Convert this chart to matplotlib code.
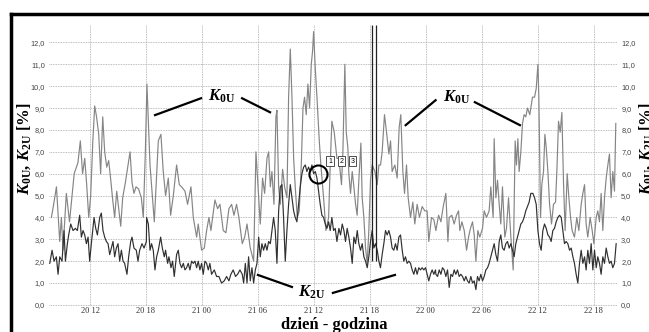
import numpy as np
import matplotlib.pyplot as plt
from matplotlib.lines import Line2D

plt.rcParams['mathtext.fontset'] = 'custom'
plt.rcParams['mathtext.rm'] = 'Liberation Serif:bold'
plt.rcParams['mathtext.it'] = 'Liberation Serif:italic:bold'
plt.rcParams['mathtext.bf'] = 'Liberation Serif:bold'

# time in hours counted from day 20, 00:00
t_k0 = [7.86, 8.1, 8.4, 8.75, 8.93, 9.1, 9.46, 9.8, 10.3, 10.7, 10.96, 11.2, 11.43, 11.64, 11.86,
        12.07, 12.3, 12.5, 12.7, 12.93, 13.14, 13.36, 13.57, 13.79, 14.0, 14.2, 14.43, 14.64, 14.86,
        15.07, 15.29, 15.5, 15.79, 16.07, 16.29, 16.5, 16.71, 16.93, 17.21, 17.5, 17.71, 17.93, 18.1,
        18.43, 18.89, 19.32, 19.6, 19.85, 20.1, 20.39, 20.64, 20.93, 21.28, 21.57, 21.82, 22.18, 22.46,
        22.82, 23.07, 23.43, 23.6, 23.96, 24.25, 24.5, 24.75, 24.96, 25.39, 25.68, 25.93, 26.28, 26.57,
        26.89, 27.18, 27.43, 27.71, 27.96, 28.32, 28.58, 28.83, 29.18, 29.54, 29.79, 30.08, 30.25,
        30.5, 30.72, 30.97, 31.15, 31.33, 31.5, 31.72, 31.93, 32.04, 32.22, 32.4, 32.65, 32.86, 33.11,
        33.29, 33.47, 33.65, 33.83, 34.0, 34.22, 34.43, 34.65, 34.83, 35.0, 35.18, 35.36, 35.54, 35.72,
        35.86, 35.97, 36.15, 36.33, 36.58, 36.75, 37.04, 37.29, 37.58, 37.75, 37.93, 38.18, 38.47,
        38.68, 38.96, 39.11, 39.32, 39.47, 39.64, 39.75, 39.93, 40.11, 40.29, 40.47, 40.64, 40.82,
        41.04, 41.18, 41.36, 41.54, 41.72, 41.89, 42.07, 42.25, 42.54, 42.79, 42.97, 43.15, 43.32,
        43.57, 43.79, 44.04, 44.22, 44.39, 44.68, 44.93, 45.14, 45.32, 45.54, 45.72, 45.93, 46.11,
        46.36, 46.61, 46.82, 47.07, 47.32, 47.61, 47.89, 48.14, 48.32, 48.61, 48.86, 49.08, 49.37,
        49.62, 49.87, 50.15, 50.37, 50.51, 50.79, 51.04, 51.29, 51.51, 51.65, 51.87, 52.12, 52.37,
        52.58, 52.79, 53.01, 53.19, 53.37, 53.58, 53.79, 54.08, 54.26, 54.51, 54.79, 54.97, 55.22,
        55.33, 55.51, 55.69, 55.87, 56.04, 56.22, 56.47, 56.65, 56.87, 57.12, 57.37, 57.58, 57.72,
        57.87, 58.01, 58.19, 58.37, 58.54, 58.72, 58.9, 59.15, 59.44, 59.66, 59.84, 60.02, 60.12,
        60.19, 60.3, 60.44, 60.62, 60.77, 60.91, 61.09, 61.27, 61.48, 61.69, 61.91, 62.05, 62.23,
        62.41, 62.59, 62.77, 62.94, 63.16, 63.34, 63.52, 63.69, 63.94, 64.19, 64.41, 64.66, 64.84,
        65.02, 65.19, 65.37, 65.62, 65.84, 66.02, 66.27, 66.44, 66.62, 66.8, 66.98, 67.16, 67.34,
        67.52, 67.69, 67.87, 68.05, 68.23, 68.37]
k0u = [4.0, 4.6, 5.4, 2.9, 4.0, 2.5, 5.1, 3.8, 6.0, 6.5, 7.5, 6.0, 6.7, 5.5, 4.0,
       5.0, 7.5, 9.1, 8.6, 7.8, 6.0, 8.6, 7.0, 6.3, 6.6, 5.8, 4.8, 4.0, 5.2,
       4.4, 3.6, 4.9, 5.6, 6.4, 7.0, 5.6, 5.1, 5.4, 5.3, 4.9, 4.0, 7.0, 10.1,
       6.4, 3.8, 7.5, 7.8, 6.1, 5.0, 5.8, 4.1, 5.0, 6.4, 5.5, 5.4, 5.2, 4.6,
       5.4, 4.0, 3.1, 3.7, 2.5, 2.6, 3.4, 4.0, 3.4, 4.8, 4.4, 4.6, 3.4, 3.3,
       4.4, 4.6, 4.1, 4.6, 4.0, 2.8, 3.1, 3.7, 2.6, 2.0, 7.0, 4.9, 3.7,
       5.8, 5.1, 6.7, 7.0, 5.4, 6.1, 4.6, 8.6, 8.9, 5.4, 4.6, 6.2, 5.4, 4.9,
       9.5, 11.7, 9.5, 6.7, 5.4, 4.0, 4.3, 6.4, 9.0, 9.5, 8.7, 10.1, 9.0, 11.0,
       11.6, 12.5, 10.8, 9.5, 7.5, 6.4, 4.9, 3.4, 4.0, 6.4, 8.4, 7.9, 6.7,
       6.7, 5.5, 7.0, 11.0, 7.9, 7.2, 6.0, 5.1, 6.1, 5.4, 4.6, 4.1, 5.7,
       7.4, 4.9, 4.0, 2.6, 1.9, 3.4, 5.7, 6.4, 6.1, 5.5, 6.4, 6.4, 7.0,
       8.7, 7.9, 6.9, 7.5, 6.1, 6.4, 5.8, 8.1, 8.7, 6.1, 5.1, 6.4, 4.9,
       4.0, 4.7, 3.7, 4.6, 4.0, 4.5, 4.3, 4.3, 2.9, 4.0, 3.9, 3.4, 4.1,
       3.8, 4.5, 5.1, 2.9, 4.0, 4.1, 3.7, 4.1, 4.3, 3.4, 3.8, 3.4, 2.5,
       3.1, 3.5, 3.8, 3.2, 2.0, 3.4, 3.1, 3.5, 4.3, 4.0, 4.3, 5.4, 4.0,
       7.6, 4.9, 5.7, 4.6, 3.7, 5.4, 3.1, 3.5, 4.9, 3.1, 1.6, 7.5, 6.4,
       7.6, 6.1, 7.0, 8.3, 8.7, 8.6, 9.0, 8.7, 9.5, 9.5, 9.9, 11.0, 9.5,
       7.5, 4.0, 5.5, 6.1, 7.8, 7.2, 6.1, 4.6, 3.7, 4.6, 4.7, 6.1, 8.4,
       7.9, 8.8, 5.5, 3.4, 6.0, 4.9, 4.0, 3.4, 3.1, 4.0, 3.4, 4.6, 5.1,
       5.5, 3.7, 3.1, 4.0, 3.4, 2.8, 4.0, 4.3, 3.8, 5.1, 3.4, 4.9, 5.8,
       6.4, 6.9, 4.9, 6.1, 5.2, 8.3]

t_k2 = [7.68, 7.93, 8.14, 8.39, 8.57, 8.75, 9.0, 9.21, 9.36, 9.57, 9.71, 9.93, 10.18, 10.43, 10.64,
        10.89, 11.07, 11.25, 11.43, 11.61, 11.79, 11.96, 12.14, 12.43, 12.61, 12.79, 13.04, 13.21,
        13.39, 13.57, 13.75, 13.93, 14.11, 14.29, 14.46, 14.64, 14.82, 15.0, 15.18, 15.36, 15.54,
        15.71, 15.96, 16.14, 16.36, 16.5, 16.71, 16.96, 17.14, 17.32, 17.57, 17.79, 18.04,
        18.07, 18.25, 18.43, 18.6, 18.78, 18.96, 19.14, 19.32, 19.57, 19.75, 19.96, 20.1, 20.32,
        20.46, 20.68, 20.85, 21.03, 21.28, 21.46, 21.64, 21.82, 22.0, 22.18, 22.35, 22.53, 22.71,
        22.89, 23.07, 23.25, 23.43, 23.6, 23.78, 23.96, 24.14, 24.32, 24.5, 24.68, 24.85, 25.03,
        25.32, 25.57, 25.82, 26.1, 26.39, 26.64, 26.89, 27.1, 27.35, 27.6, 27.82, 28.07, 28.32,
        28.47, 28.65, 28.83, 29.0, 29.18, 29.36, 29.54, 29.72, 29.9, 30.08, 30.25, 30.43, 30.61,
        30.79, 30.97, 31.15, 31.33, 31.5, 31.68, 31.86, 32.04, 32.22, 32.4, 32.58, 32.75, 32.93,
        33.11, 33.29, 33.47, 33.65, 33.83, 34.0, 34.18, 34.36, 34.54, 34.72, 34.9, 35.08, 35.25,
        35.43, 35.61, 35.79, 35.97, 36.15, 36.33, 36.5, 36.68, 36.86, 37.04, 37.22, 37.4, 37.58,
        37.75, 37.93, 38.11, 38.29, 38.47,
        38.68, 38.86, 39.04, 39.22, 39.39, 39.57, 39.75, 39.93, 40.11, 40.29, 40.47, 40.65, 40.82,
        41.0, 41.18, 41.36, 41.54, 41.72, 41.89, 42.07, 42.25, 42.43, 42.61, 42.79, 42.97, 43.14,
        43.32, 43.5, 43.68, 43.86, 44.04, 44.22, 44.39, 44.57, 44.75, 44.93, 45.11, 45.29, 45.47,
        45.64, 45.82, 46.0, 46.18, 46.36, 46.54, 46.72, 46.89, 47.07, 47.25, 47.43, 47.61, 47.79,
        47.97, 48.14, 48.32, 48.5, 48.68, 48.86, 49.04,
        49.08, 49.26, 49.44, 49.62, 49.79, 49.97, 50.15, 50.33, 50.51, 50.69, 50.87, 51.04, 51.22,
        51.4, 51.58, 51.76, 51.94, 52.12, 52.29, 52.47, 52.65, 52.83, 53.01, 53.19, 53.37, 53.54,
        53.72, 53.9, 54.08, 54.26, 54.44, 54.62, 54.79, 54.97, 55.15, 55.33, 55.51, 55.69, 55.87,
        56.04, 56.22, 56.4, 56.58, 56.76, 56.94, 57.12, 57.29, 57.47, 57.65, 57.83, 58.01, 58.19,
        58.37, 58.54, 58.72, 58.9, 59.08, 59.26,
        59.48, 59.66, 59.84, 60.02, 60.19, 60.37, 60.55, 60.73, 60.91, 61.09, 61.27, 61.44, 61.62,
        61.8, 61.98, 62.16, 62.34, 62.52, 62.69, 62.87, 63.05, 63.23, 63.41, 63.59, 63.77, 63.94,
        64.12, 64.3, 64.48, 64.66, 64.84, 65.02, 65.19, 65.37, 65.55, 65.73, 65.91, 66.09, 66.27,
        66.44, 66.62, 66.8, 66.98, 67.16, 67.34, 67.52, 67.69, 67.87, 68.05, 68.23, 68.41]
k2u = [1.9, 2.5, 2.0, 2.2, 1.4, 2.2, 2.0, 3.4, 2.0, 2.8, 3.2, 3.7, 3.4, 3.5, 3.4,
       4.1, 3.1, 3.4, 3.2, 2.8, 3.1, 2.0, 2.8, 4.0, 3.5, 3.2, 4.0, 4.2,
       3.4, 3.1, 2.9, 2.8, 2.3, 2.6, 2.9, 2.2, 2.6, 2.8, 2.0, 2.5, 2.0,
       1.9, 1.4, 2.2, 2.9, 3.1, 2.6, 2.5, 2.0, 2.5, 2.8, 2.6, 2.9,
       4.0, 3.7, 2.5, 2.8, 2.5, 1.6, 2.2, 2.5, 3.1, 2.6, 2.2, 2.5, 1.9,
       2.2, 1.7, 2.0, 1.3, 2.3, 2.5, 1.9, 1.7, 1.9, 1.6, 1.7, 1.9, 1.6,
       2.0, 1.9, 2.0, 1.7, 2.0, 1.6, 1.9, 1.4, 2.0, 1.9, 1.6, 1.9, 1.4,
       1.6, 1.3, 1.3, 1.0, 1.1, 1.3, 1.1, 1.4, 1.6, 1.3, 1.4, 1.6, 1.4,
       1.0, 1.9, 1.0, 2.2, 1.1, 1.7, 1.0, 1.6, 1.9, 3.1, 2.2, 2.8, 2.5,
       2.8, 2.5, 2.9, 2.8, 3.4, 4.0, 3.4, 1.9, 4.3, 5.4, 5.5, 4.0, 2.0,
       3.4, 4.6, 5.5, 4.9, 4.3, 4.0, 3.8, 4.6, 5.4, 6.0, 6.3, 6.4, 6.1,
       6.3, 6.1, 6.4, 6.0, 6.1, 5.8, 5.2, 4.6, 4.1, 4.0, 3.7, 3.5, 3.8,
       3.4, 4.0, 3.4, 3.5, 2.9,
       3.5, 3.2, 3.7, 3.4, 2.9, 3.5, 3.1, 2.6, 1.9, 3.1, 2.8, 3.4, 2.8,
       2.5, 2.8, 2.2, 2.0, 1.7, 2.2, 2.9, 3.4, 2.6, 2.8, 2.5, 2.0, 1.7,
       2.3, 2.8, 3.4, 3.2, 3.4, 3.1, 2.6, 2.5, 2.8, 2.5, 3.1, 3.2, 2.5,
       2.0, 2.2, 1.9, 2.0, 1.9, 1.6, 1.4, 1.7, 1.4, 1.7, 1.6, 1.7, 1.6,
       1.7, 1.4, 1.1, 1.4, 1.6, 1.4, 1.6,
       1.4, 1.3, 1.6, 1.4, 1.7, 1.6, 1.3, 1.6, 0.8, 1.4, 1.3, 1.6, 1.4,
       1.6, 1.3, 1.4, 1.3, 1.1, 1.3, 1.1, 1.0, 1.3, 1.0, 1.1, 0.7, 1.3,
       1.1, 1.4, 1.1, 1.3, 1.6, 1.7, 1.9, 2.2, 2.5, 2.8, 2.3, 2.0, 2.9,
       3.2, 2.6, 2.5, 2.8, 2.9, 2.6, 2.8, 2.5, 2.2, 2.8, 3.1, 3.4, 3.7,
       3.8, 4.0, 4.3, 4.5, 4.7, 5.1,
       5.1, 4.9, 4.6, 3.4, 2.8, 2.5, 3.4, 3.7, 3.5, 3.2, 3.1, 2.9, 3.4,
       3.5, 3.8, 4.0, 4.1, 4.0, 3.4, 2.8, 2.9, 2.8, 2.5, 2.6, 2.2, 1.9,
       1.4, 1.0, 1.9, 2.5, 1.9, 2.2, 1.6, 2.5, 1.9, 2.8, 1.6, 2.5, 1.7,
       2.2, 1.9, 1.4, 2.2, 1.9, 2.6, 2.2, 1.9, 2.0, 1.7, 1.9, 2.8]

x_ticks = [12, 18, 24, 30, 36, 42, 48, 54, 60, 66]
x_labels = ['20 12', '20 18', '21 00', '21 06', '21 12', '21 18', '22 00', '22 06', '22 12', '22 18']
y_ticks = list(range(13))
y_labels = ['%d,0' % v for v in y_ticks]

fig = plt.figure(figsize=(6.49, 3.32), dpi=100)
ax = fig.add_axes([49/649, 26/332, 568/649, 281/332])

ax.plot(t_k0, k0u, color='#858585', lw=0.85)
ax.plot(t_k2, k2u, color='#303030', lw=0.85)

# two vertical markers near 21 18
ax.vlines([42.25, 42.68], 2.0, 12.8, color='#222222', lw=0.9)

ax.set_xlim(7.6, 68.5)
ax.set_ylim(-0.05, 12.8)
ax.set_xticks(x_ticks)
ax.set_xticklabels(x_labels, fontfamily='Liberation Serif', fontsize=6, color='#333333')
ax.set_yticks(y_ticks)
ax.set_yticklabels(y_labels, fontfamily='Liberation Sans', fontsize=5.3, color='#444444')
ax.tick_params(axis='x', length=0, pad=1)
ax.tick_params(axis='y', length=0, pad=3, labelright=True)
ax.grid(True, color='#a8a8a8', linestyle=(0, (1, 1)), lw=0.6)
for s in ax.spines.values():
    s.set_visible(False)

# annotations: labels with pointer lines
lbl0 = r'$K_{\rm 0U}$'
lbl2 = r'$K_{\rm 2U}$'
ax.text(26.15, 9.54, lbl0, fontsize=12, ha='center', va='center')
ax.text(51.3, 9.5, lbl0, fontsize=12, ha='center', va='center')
ax.text(35.8, 0.59, lbl2, fontsize=12, ha='center', va='center')
pointers = [([18.97, 23.9], [8.68, 9.45]), ([28.3, 31.3], [9.45, 8.81]),
            ([45.84, 49.05], [8.22, 9.36]), ([53.26, 58.09], [9.27, 8.22]),
            ([30.0, 33.65], [1.37, 0.82]), ([38.04, 44.69], [0.55, 1.37])]
for xs, ys in pointers:
    ax.plot(xs, ys, color='black', lw=1.6)

ax.plot([36.43], [6.0], marker='o', ms=13, mfc='none', mec='black', mew=1.5)
for xb, nb in zip([37.72, 38.95, 40.15], ['1', '2', '3']):
    ax.text(xb, 6.58, nb, fontsize=5, ha='center', va='center', fontfamily='Liberation Sans',
            bbox=dict(boxstyle='square,pad=0.25', fc='white', ec='#333333', lw=0.6))

ylab = r'$K_{\rm 0U}$, $K_{\rm 2U}$ [%]'
fig.text(24/649, 0.551, ylab, rotation=90, fontsize=12, ha='center', va='center',
         fontfamily='Liberation Serif', fontweight='bold')
fig.text(646/649, 0.551, ylab, rotation=90, fontsize=12, ha='center', va='center',
         fontfamily='Liberation Serif', fontweight='bold')
fig.text(334/649, -1/332, 'dzień - godzina', fontsize=12, ha='center', va='bottom',
         fontfamily='Liberation Serif', fontweight='bold')

# outer frame
fig.add_artist(Line2D([11/649, 11/649], [0, 318/332], color='black', lw=2.5))
fig.add_artist(Line2D([11/649, 1], [318/332, 318/332], color='black', lw=2.5))

fig.savefig('out.png', dpi=100)
